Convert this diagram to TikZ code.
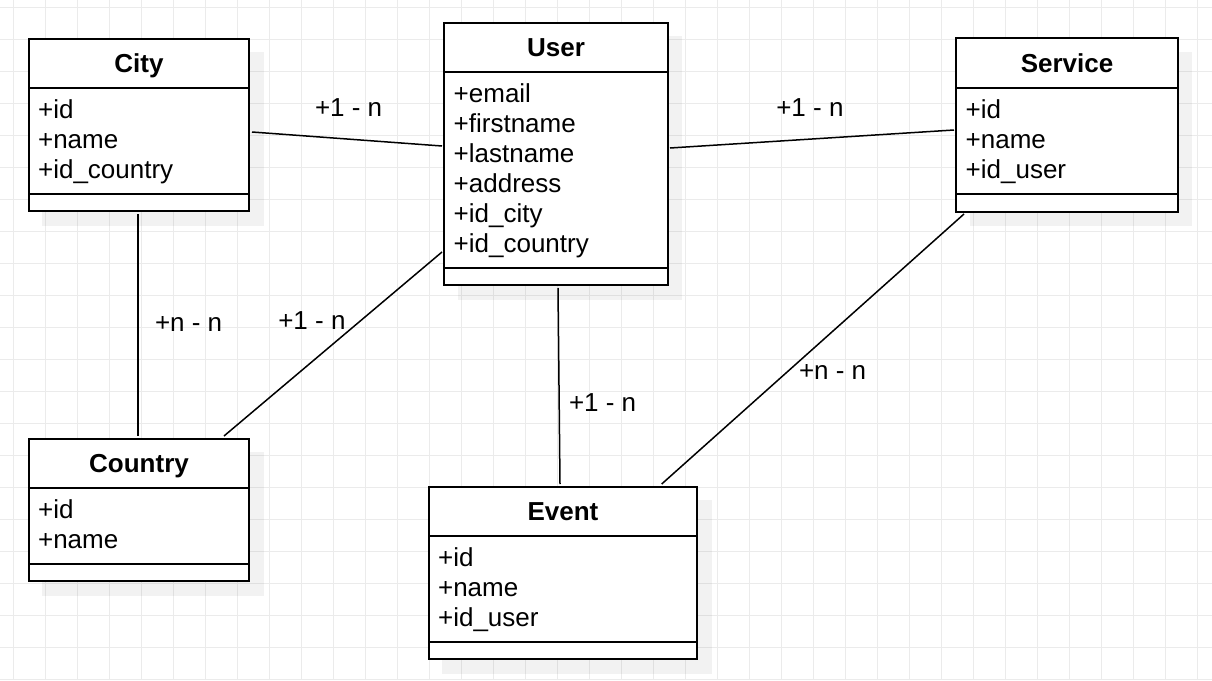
\documentclass[tikz,border=0pt]{standalone}
\usepackage{fontspec}
\setmainfont{Liberation Sans}
\newcommand\umlclass[7]{%
  \node[shadowbox, minimum width=#4pt+1.4pt, minimum height=#5pt+1.4pt] (#1-shadow) at (#2+13.3,#3+13.3) {};
  \node[umlbox, minimum width=#4pt, minimum height=#5pt] (#1) at (#2,#3) {};
  \node[titletext] (#1-title) at ([yshift=-34pt]#1.north) {#6};
  \draw[sepline] ([yshift=-49.5pt]#1.north west) -- ([yshift=-49.5pt]#1.north east);
  \draw[sepline] ([yshift=17.5pt]#1.south west) -- ([yshift=17.5pt]#1.south east);
  \foreach \a [count=\k] in {#7}
    \node[attrtext] (#1-attr\k) at ([xshift=9.2pt, yshift={-80pt-30pt*(\k-1)}]#1.north west) {\a};
}
\begin{document}
\begin{tikzpicture}[x=1pt,y=-1pt,
  gridline/.style={draw=black!8, line width=1pt},
  umlbox/.style={draw=black, line width=2pt, fill=white, inner sep=0pt, outer sep=0pt, anchor=north west},
  shadowbox/.style={fill=black, fill opacity=0.05, draw=none, inner sep=0pt, outer sep=0pt, anchor=north west},
  sepline/.style={draw=black, line width=2pt},
  titletext/.style={font=\bfseries\fontsize{26}{30}\selectfont, inner sep=0pt, anchor=base},
  attrtext/.style={font=\fontsize{26}{30}\selectfont, inner sep=0pt, anchor=base west},
  link/.style={draw=black, line width=1.5pt},
  cardlabel/.style={font=\fontsize{26}{30}\selectfont, inner sep=0pt, anchor=base west}]

\useasboundingbox (0,0) rectangle (1212,680);
\fill[white] (0,0) rectangle (1212,680);
\foreach \i in {0,...,37} \draw[gridline] ({13+32*\i},0) -- ({13+32*\i},680);
\foreach \j in {0,...,21} \draw[gridline] (0,{7+32*\j}) -- (1212,{7+32*\j});

\umlclass{city}{28.7}{38.7}{220.6}{172.6}{City}{+id,+name,+id\_country}
\umlclass{user}{444.3}{22.7}{223.4}{262.6}{User}{+email,+firstname,+lastname,+address,+id\_city,+id\_country}
\umlclass{service}{956.3}{38.3}{221.4}{173.4}{Service}{+id,+name,+id\_user}
\umlclass{country}{28.7}{438.7}{220.6}{142.6}{Country}{+id,+name}
\umlclass{event}{428.7}{486.7}{268.6}{172.6}{Event}{+id,+name,+id\_user}

\draw[link] ([xshift=2.7pt,yshift=-7pt]city.east) -- ([xshift=-2.3pt,yshift=8pt]user.west);
\draw[link] ([xshift=2.3pt,yshift=6pt]user.east) -- ([xshift=-2.3pt,yshift=-5pt]service.west);
\draw[link] ([xshift=-1pt,yshift=-2.7pt]city.south) -- ([xshift=-1pt,yshift=2.7pt]country.north);
\draw[link] ([xshift=-2.3pt,yshift=33.3pt]user.south west) -- ([xshift=-25.3pt,yshift=2.7pt]country.north east);
\draw[link] ([xshift=2pt,yshift=-2.7pt]user.south) -- ([xshift=-3pt,yshift=2.7pt]event.north);
\draw[link] ([xshift=7.7pt,yshift=-2.3pt]service.south west) -- ([xshift=-35.6pt,yshift=2.7pt]event.north east);

\node[cardlabel] (lab-cityuser) at (314.8,116) {+1 - n};
\node[cardlabel] (lab-userservice) at (776.1,116) {+1 - n};
\node[cardlabel] (lab-citycountry) at (154.8,331) {+n - n};
\node[cardlabel] (lab-usercountry) at (278.1,329) {+1 - n};
\node[cardlabel] (lab-serviceevent) at (798.8,379) {+n - n};
\node[cardlabel] (lab-userevent) at (568.8,411.5) {+1 - n};
\end{tikzpicture}
\end{document}
